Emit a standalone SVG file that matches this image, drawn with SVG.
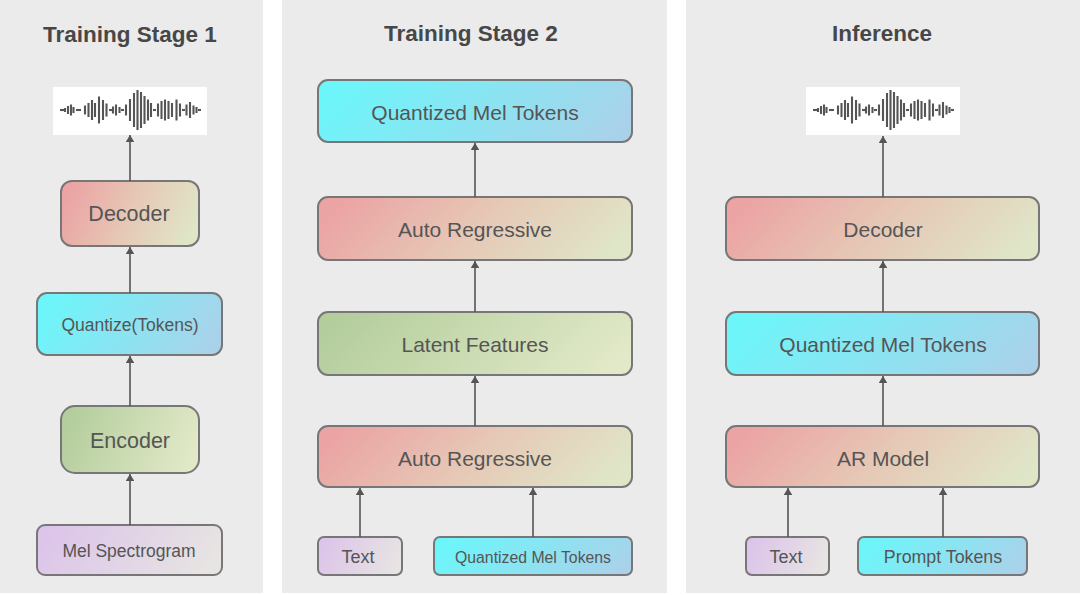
<svg xmlns="http://www.w3.org/2000/svg" width="1080" height="595" viewBox="0 0 1080 595">
<style>
.panel{fill:#ebebeb}
.title{font-family:"Liberation Sans",Arial,sans-serif;font-weight:bold;font-size:22.5px;fill:#474747;text-anchor:middle}
.node rect{stroke:#777;stroke-width:2}
.lbl{font-family:"Liberation Sans",Arial,sans-serif;fill:#555;text-anchor:middle;dominant-baseline:central}
.conn line{stroke:#555;stroke-width:1.6}
.wave line{stroke:#555;stroke-width:2.1}
</style>
<defs>
<linearGradient id="gPink" x1="0" y1="0.4" x2="1" y2="0.6"><stop offset="0" stop-color="#eba3a3"/><stop offset="0.5" stop-color="#e6c8b6"/><stop offset="1" stop-color="#dfe6c8"/></linearGradient>
<linearGradient id="gGreen" x1="0" y1="0.4" x2="1" y2="0.6"><stop offset="0" stop-color="#b3cd9c"/><stop offset="1" stop-color="#e2e9c8"/></linearGradient>
<linearGradient id="gCyan" x1="0" y1="0.4" x2="1" y2="0.6"><stop offset="0" stop-color="#6cf6fa"/><stop offset="1" stop-color="#a9d2ea"/></linearGradient>
<linearGradient id="gPurple" x1="0" y1="0.4" x2="1" y2="0.6"><stop offset="0" stop-color="#dcc4ea"/><stop offset="1" stop-color="#e7e5e2"/></linearGradient>
<marker id="arr" viewBox="0 0 8 10" refX="8" refY="5" markerWidth="4.5" markerHeight="5.5" orient="auto" markerUnits="strokeWidth"><path d="M0,0 L8,5 L0,10 z" fill="#555"/></marker>
<g id="wave" class="wave">
<rect x="53" y="87" width="154" height="48" fill="#ffffff"/>
<line x1="60" y1="110" x2="64" y2="110"/>
<line x1="65" y1="108" x2="65" y2="112"/>
<line x1="68" y1="106" x2="68" y2="114"/>
<line x1="71" y1="104.5" x2="71" y2="115.5"/>
<line x1="73.5" y1="107" x2="73.5" y2="113"/>
<line x1="76" y1="110" x2="81" y2="110"/>
<line x1="85" y1="105.5" x2="85" y2="114.5"/>
<line x1="88.5" y1="103" x2="88.5" y2="117"/>
<line x1="92" y1="100" x2="92" y2="120"/>
<line x1="95" y1="103" x2="95" y2="117"/>
<line x1="99" y1="96.5" x2="99" y2="123.5"/>
<line x1="103" y1="100" x2="103" y2="120"/>
<line x1="106.5" y1="103.5" x2="106.5" y2="116.5"/>
<line x1="109" y1="110" x2="112" y2="110"/>
<line x1="113" y1="106.5" x2="113" y2="113.5"/>
<line x1="116" y1="104.5" x2="116" y2="115.5"/>
<line x1="119.5" y1="107" x2="119.5" y2="113"/>
<line x1="121" y1="110" x2="124" y2="110"/>
<line x1="126" y1="104.5" x2="126" y2="115.5"/>
<line x1="130" y1="99" x2="130" y2="121"/>
<line x1="134" y1="93" x2="134" y2="127"/>
<line x1="137.5" y1="90" x2="137.5" y2="130"/>
<line x1="141" y1="92" x2="141" y2="128"/>
<line x1="144.5" y1="96" x2="144.5" y2="124"/>
<line x1="148" y1="99.5" x2="148" y2="120.5"/>
<line x1="151" y1="103" x2="151" y2="117"/>
<line x1="153" y1="110" x2="156" y2="110"/>
<line x1="158" y1="103.5" x2="158" y2="116.5"/>
<line x1="161.5" y1="101" x2="161.5" y2="119"/>
<line x1="165" y1="99.5" x2="165" y2="120.5"/>
<line x1="168.5" y1="101" x2="168.5" y2="119"/>
<line x1="172" y1="103" x2="172" y2="117"/>
<line x1="176.5" y1="99.5" x2="176.5" y2="120.5"/>
<line x1="180" y1="103.5" x2="180" y2="116.5"/>
<line x1="182" y1="110" x2="185" y2="110"/>
<line x1="186.5" y1="104.5" x2="186.5" y2="115.5"/>
<line x1="190" y1="102" x2="190" y2="118"/>
<line x1="193.5" y1="105.5" x2="193.5" y2="114.5"/>
<line x1="196.5" y1="107" x2="196.5" y2="113"/>
<line x1="198" y1="110" x2="201" y2="110"/>
</g>
</defs>
<rect width="1080" height="595" fill="#ffffff"/>
<rect class="panel" x="0" y="0" width="263" height="593"/>
<rect class="panel" x="282" y="0" width="385" height="593"/>
<rect class="panel" x="686" y="0" width="394" height="593"/>
<text class="title" x="130" y="42">Training Stage 1</text>
<text class="title" x="471" y="41">Training Stage 2</text>
<text class="title" x="882" y="41">Inference</text>
<use id="waveform1" href="#wave"/>
<use id="waveform2" href="#wave" transform="translate(753,0)"/>
<g id="s1-decoder" class="node"><rect x="61" y="181" width="138" height="65" rx="11" fill="url(#gPink)"/><text class="lbl" x="129" y="214" font-size="21.5">Decoder</text></g>
<g id="s1-quantize" class="node"><rect x="37" y="293" width="185" height="62" rx="10" fill="url(#gCyan)"/><text class="lbl" x="130" y="325" font-size="17.5">Quantize(Tokens)</text></g>
<g id="s1-encoder" class="node"><rect x="61" y="406" width="138" height="67" rx="14" fill="url(#gGreen)"/><text class="lbl" x="130" y="441" font-size="21.5">Encoder</text></g>
<g id="s1-mel" class="node"><rect x="37" y="525" width="185" height="50" rx="8" fill="url(#gPurple)"/><text class="lbl" x="129" y="551" font-size="17.5">Mel Spectrogram</text></g>
<g id="s2-qmt" class="node"><rect x="318" y="80" width="314" height="62" rx="10" fill="url(#gCyan)"/><text class="lbl" x="475" y="112" font-size="21">Quantized Mel Tokens</text></g>
<g id="s2-ar1" class="node"><rect x="318" y="197" width="314" height="63" rx="10" fill="url(#gPink)"/><text class="lbl" x="475" y="229" font-size="21">Auto Regressive</text></g>
<g id="s2-latent" class="node"><rect x="318" y="312" width="314" height="63" rx="10" fill="url(#gGreen)"/><text class="lbl" x="475" y="344" font-size="21">Latent Features</text></g>
<g id="s2-ar2" class="node"><rect x="318" y="426" width="314" height="61" rx="10" fill="url(#gPink)"/><text class="lbl" x="475" y="458" font-size="21">Auto Regressive</text></g>
<g id="s2-text" class="node"><rect x="318" y="537" width="84" height="38" rx="6" fill="url(#gPurple)"/><text class="lbl" x="358" y="557" font-size="18">Text</text></g>
<g id="s2-qmt-in" class="node"><rect x="434" y="537" width="198" height="38" rx="6" fill="url(#gCyan)"/><text class="lbl" x="533" y="557" font-size="15.8">Quantized Mel Tokens</text></g>
<g id="inf-decoder" class="node"><rect x="726" y="197" width="313" height="63" rx="10" fill="url(#gPink)"/><text class="lbl" x="883" y="229" font-size="21">Decoder</text></g>
<g id="inf-qmt" class="node"><rect x="726" y="312" width="313" height="63" rx="10" fill="url(#gCyan)"/><text class="lbl" x="883" y="344" font-size="21">Quantized Mel Tokens</text></g>
<g id="inf-ar" class="node"><rect x="726" y="426" width="313" height="61" rx="10" fill="url(#gPink)"/><text class="lbl" x="883" y="458" font-size="21">AR Model</text></g>
<g id="inf-text" class="node"><rect x="746" y="537" width="83" height="38" rx="6" fill="url(#gPurple)"/><text class="lbl" x="786" y="557" font-size="18">Text</text></g>
<g id="inf-prompt" class="node"><rect x="858" y="537" width="169" height="38" rx="6" fill="url(#gCyan)"/><text class="lbl" x="943" y="557" font-size="17.8">Prompt Tokens</text></g>
<g id="connectors" class="conn">
<line x1="130" y1="181" x2="130" y2="135" marker-end="url(#arr)"/>
<line x1="130" y1="293" x2="130" y2="247" marker-end="url(#arr)"/>
<line x1="130" y1="406" x2="130" y2="356" marker-end="url(#arr)"/>
<line x1="130" y1="525" x2="130" y2="474" marker-end="url(#arr)"/>
<line x1="475" y1="197" x2="475" y2="143" marker-end="url(#arr)"/>
<line x1="475" y1="312" x2="475" y2="261" marker-end="url(#arr)"/>
<line x1="475" y1="426" x2="475" y2="376" marker-end="url(#arr)"/>
<line x1="360" y1="537" x2="360" y2="488" marker-end="url(#arr)"/>
<line x1="533" y1="537" x2="533" y2="488" marker-end="url(#arr)"/>
<line x1="883" y1="197" x2="883" y2="136" marker-end="url(#arr)"/>
<line x1="883" y1="312" x2="883" y2="261" marker-end="url(#arr)"/>
<line x1="883" y1="426" x2="883" y2="376" marker-end="url(#arr)"/>
<line x1="788" y1="537" x2="788" y2="488" marker-end="url(#arr)"/>
<line x1="943" y1="537" x2="943" y2="488" marker-end="url(#arr)"/>
</g>
</svg>
